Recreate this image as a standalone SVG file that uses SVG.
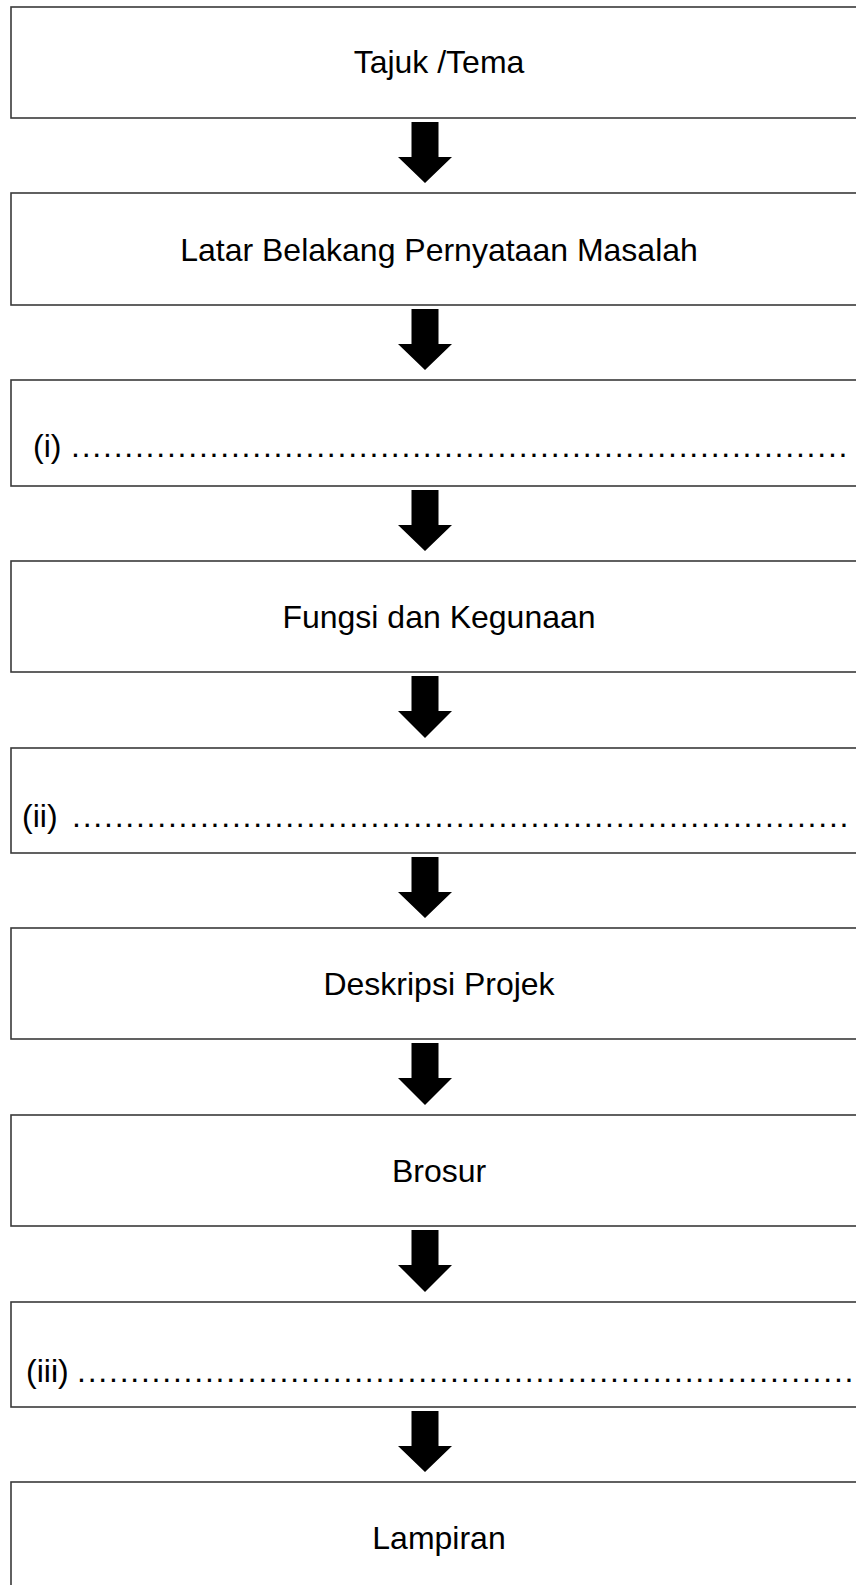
<svg xmlns="http://www.w3.org/2000/svg" width="856" height="1585" viewBox="0 0 856 1585">
<style>
.box{fill:#fff;stroke:#3a3a3a;stroke-width:1.6}
.lbl{font-family:"Liberation Sans",Arial,sans-serif;font-size:32px;fill:#000}
.c{text-anchor:middle}
.dots{font-family:"Liberation Sans",Arial,sans-serif;font-size:32px;fill:#000;letter-spacing:1.77px}
.arr{fill:#000}
</style>
<rect width="856" height="1585" fill="#fff"/>
<g id="n1"><rect class="box" x="11" y="7" width="880" height="111"/><text class="lbl c" x="439" y="73">Tajuk /Tema</text></g>
<g id="n2"><rect class="box" x="11" y="193" width="880" height="112"/><text class="lbl c" x="439" y="261">Latar Belakang Pernyataan Masalah</text></g>
<g id="n3"><rect class="box" x="11" y="380" width="880" height="106"/><text class="lbl" x="33" y="457">(i)</text><text class="dots" x="71" y="457">.........................................................................</text></g>
<g id="n4"><rect class="box" x="11" y="561" width="880" height="111"/><text class="lbl c" x="439" y="628">Fungsi dan Kegunaan</text></g>
<g id="n5"><rect class="box" x="11" y="748" width="880" height="105"/><text class="lbl" x="22" y="827">(ii)</text><text class="dots" x="72" y="827">.........................................................................</text></g>
<g id="n6"><rect class="box" x="11" y="928" width="880" height="111"/><text class="lbl c" x="439" y="995">Deskripsi Projek</text></g>
<g id="n7"><rect class="box" x="11" y="1115" width="880" height="111"/><text class="lbl c" x="439" y="1182">Brosur</text></g>
<g id="n8"><rect class="box" x="11" y="1302" width="880" height="105"/><text class="lbl" x="26" y="1382">(iii)</text><text class="dots" x="77" y="1382">.........................................................................</text></g>
<g id="n9"><rect class="box" x="11" y="1482" width="880" height="120"/><text class="lbl c" x="439" y="1549">Lampiran</text></g>
<g id="connectors">
<polygon class="arr" points="411.5,122 438.5,122 438.5,157 452,157 425,183 398,157 411.5,157"/>
<polygon class="arr" points="411.5,309 438.5,309 438.5,344 452,344 425,370 398,344 411.5,344"/>
<polygon class="arr" points="411.5,490 438.5,490 438.5,525 452,525 425,551 398,525 411.5,525"/>
<polygon class="arr" points="411.5,676 438.5,676 438.5,711 452,711 425,738 398,711 411.5,711"/>
<polygon class="arr" points="411.5,857 438.5,857 438.5,892 452,892 425,918 398,892 411.5,892"/>
<polygon class="arr" points="411.5,1043 438.5,1043 438.5,1078 452,1078 425,1105 398,1078 411.5,1078"/>
<polygon class="arr" points="411.5,1230 438.5,1230 438.5,1265 452,1265 425,1292 398,1265 411.5,1265"/>
<polygon class="arr" points="411.5,1411 438.5,1411 438.5,1446 452,1446 425,1472 398,1446 411.5,1446"/>
</g>
</svg>
